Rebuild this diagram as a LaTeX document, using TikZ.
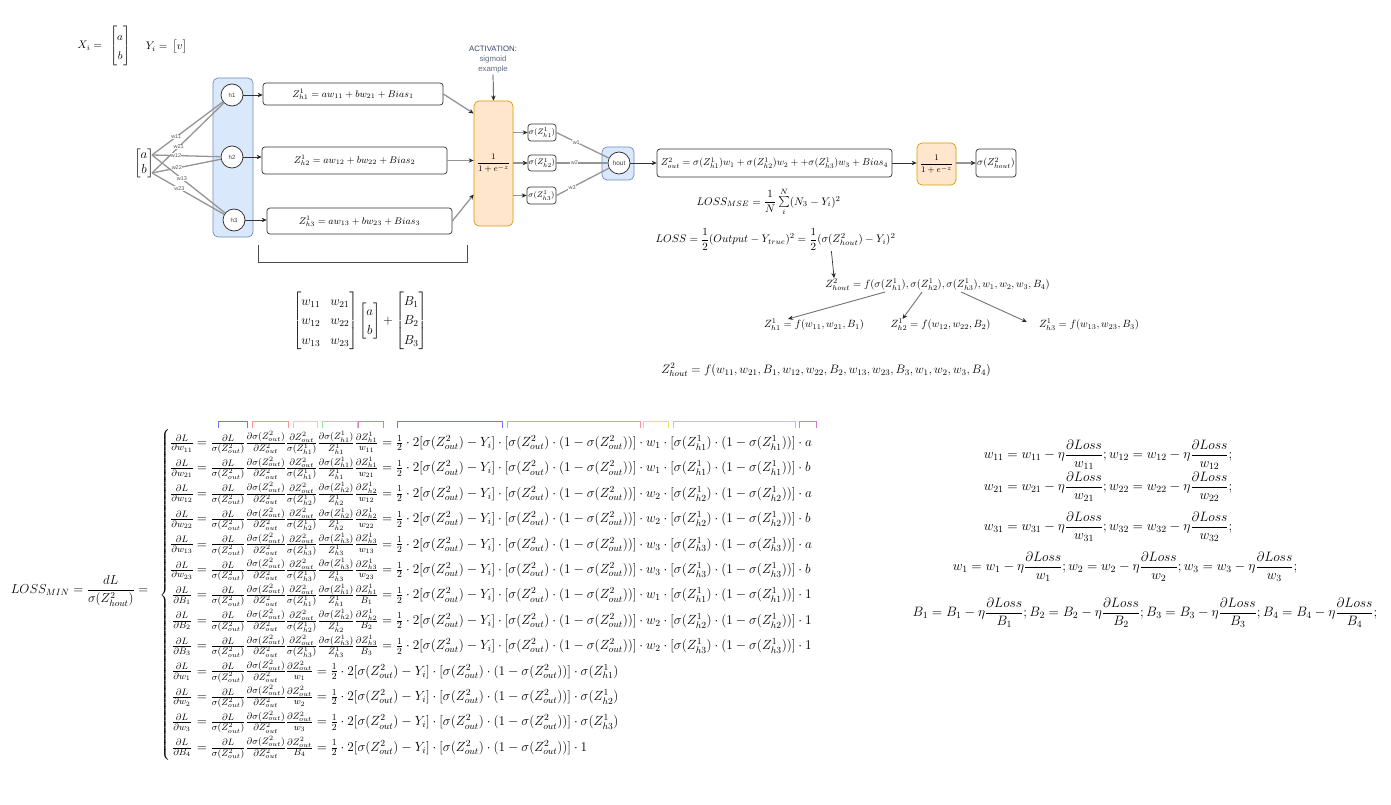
\RequirePackage{fix-cm}
\documentclass[tikz,border=0pt]{standalone}
\usepackage{amsmath}
\usepackage{fontspec}
\newfontfamily\lab{Liberation Sans}
\usetikzlibrary{arrows.meta,calc}

\definecolor{grpf}{HTML}{DAE8FC}
\definecolor{grpd}{HTML}{6C8EBF}
\definecolor{actf}{HTML}{FFE6CC}
\definecolor{actd}{HTML}{D79B00}
\definecolor{gline}{HTML}{959595}
\definecolor{labnavy}{HTML}{3A4566}
\definecolor{labgrey}{HTML}{5F6B80}
\definecolor{bkb}{HTML}{7373FF}
\definecolor{bkr}{HTML}{FF9494}
\definecolor{bky}{HTML}{E6DD6E}
\definecolor{bkg}{HTML}{8EEB8E}
\definecolor{bkm}{HTML}{CC7ACC}

% shorthand for the recurring activations
\newcommand{\sZo}{\sigma(Z^2_{out})}
\newcommand{\sZh}[1]{\sigma(Z^1_{h#1})}

% right-hand side of a hidden-layer gradient
\newcommand{\hidrest}[4]{{}= \frac{\partial L}{\sZo}\frac{\partial\sZo}{\partial Z^2_{out}}\frac{\partial Z^2_{out}}{\sZh{#2}}\frac{\partial\sZh{#2}}{Z^1_{h#2}}\frac{\partial Z^1_{h#2}}{#1} = \frac12\cdot 2[\sZo - Y_i]\cdot[\sZo\cdot(1-\sZo)]\cdot #3\cdot[\sZh{#2}\cdot(1-\sZh{#2})]\cdot #4}
% right-hand side of an output-layer gradient
\newcommand{\outrest}[2]{{}= \frac{\partial L}{\sZo}\frac{\partial\sZo}{\partial Z^2_{out}}\frac{\partial Z^2_{out}}{#1} = \frac12\cdot 2[\sZo - Y_i]\cdot[\sZo\cdot(1-\sZo)]\cdot #2}

\begin{document}
\begin{tikzpicture}[x=1pt,y=-1pt,
  zb/.style={draw=black!80, fill=white, rounded corners=3pt, line width=0.7pt, inner sep=0pt},
  neu/.style={circle, draw=black!85, fill=white, line width=0.7pt, minimum size=22pt, inner sep=0pt, text=black!75, font=\lab\fontsize{6}{7}\selectfont},
  grp/.style={draw=grpd, fill=grpf, rounded corners=5pt, line width=0.7pt, inner sep=0pt},
  actbox/.style={draw=actd, fill=actf, rounded corners=5pt, line width=0.7pt, inner sep=0pt},
  gl/.style={draw=gline, line width=1.3pt},
  arrowtip/.style={-{Stealth[length=5pt,width=4.4pt,color=black!85]}},
  darr/.style={draw=black!80, line width=0.7pt, arrowtip},
  garr/.style={gl, arrowtip},
  tarr/.style={draw=black!55, line width=0.9pt, arrowtip},
  wl/.style={font=\lab\fontsize{5.5}{6}\selectfont, text=black!65, fill=white, inner sep=0.4pt},
  fa/.style={inner sep=0pt, font=\fontsize{9.7}{11.6}\selectfont},
  fb/.style={inner sep=0pt, font=\fontsize{10.5}{12.6}\selectfont},
  fc/.style={inner sep=0pt, font=\fontsize{11}{13.2}\selectfont},
  fd/.style={inner sep=0pt, font=\fontsize{13}{15.6}\selectfont},
  fe/.style={inner sep=0pt, font=\fontsize{13.3}{16}\selectfont},
  fu/.style={inner sep=0pt, font=\fontsize{13.6}{16.3}\selectfont},
  bk/.style={line width=0.8pt}
]
\fill[white] (0,0) rectangle (1391,805);
\useasboundingbox (0,0) rectangle (1391,805);

% ---------- inputs ----------
\node[inner sep=0pt, font=\fontsize{11}{13.2}\selectfont] (xi) at (104,46) {\renewcommand{\arraystretch}{1.45}$X_i = \;\,\begin{bmatrix} a\\ b\end{bmatrix}$};
\node[inner sep=0pt, font=\fontsize{11}{13.2}\selectfont] (yi) at (166.5,47) {$Y_i = \,\begin{bmatrix} v\end{bmatrix}$};
\node[fd] (inp) at (144,163) {$\begin{bmatrix} a\\ b\end{bmatrix}$};
\coordinate (ina) at (152,155);
\coordinate (inb) at (152,173);

% ---------- hidden layer ----------
\node[grp, minimum width=40pt, minimum height=159pt] (hgrp) at (233,157.5) {};
\node[neu] (h1) at (232,95) {h1};
\node[neu] (h2) at (232,157) {h2};
\node[neu] (h3) at (234,220) {h3};

\draw[gl] (ina) -- node[wl,pos=.34]{w11} (h1);
\draw[gl] (inb) -- node[wl,pos=.37]{w21} (h1);
\draw[gl] (ina) -- node[wl,pos=.35]{w12} (h2);
\draw[gl] (inb) -- node[wl,pos=.36]{w22} (h2);
\draw[gl] (ina) -- node[wl,pos=.41]{w13} (h3);
\draw[gl] (inb) -- node[wl,pos=.38]{w23} (h3);

\node[zb, fa, minimum width=180pt, minimum height=22pt] (z1) at (353,94) {$Z^1_{h1} = aw_{11} + bw_{21} + Bias_1$};
\node[zb, fa, minimum width=185pt, minimum height=27pt] (z2) at (354.5,160.5) {$Z^1_{h2} = aw_{12} + bw_{22} + Bias_2$};
\node[zb, fa, minimum width=185pt, minimum height=26pt] (z3) at (359.5,221) {$Z^1_{h3} = aw_{13} + bw_{23} + Bias_3$};

\draw[darr] (h1) -- (z1.west |- h1);
\draw[darr] (h2) -- (z2.west |- h2);
\draw[darr] (h3) -- (z3.west |- h3);

% bracket under the weighted sums
\draw[black!70, line width=0.7pt] (258,245) -- (258,262) -- (467,262) -- (467,245);

% ---------- activation ----------
\node[actbox, minimum width=39pt, minimum height=125pt, font=\fontsize{8.5}{10}\selectfont] (a1) at (493.5,163.5) {$\dfrac{1}{1+e^{-z}}$};
\node[inner sep=1pt, align=center, font=\lab\fontsize{7.8}{10}\selectfont] (actlab) at (493,60) {\textcolor{labnavy}{ACTIVATION:}\\\textcolor{labgrey}{sigmoid}\\\textcolor{labgrey}{example}};
\draw[darr] (actlab.south) -- (a1.north);

\draw[garr] (z1.east) -- ($(a1.west)+(0,-50)$);
\draw[garr] (z2.east) -- (a1.west |- z2.east);
\draw[garr] (z3.east) -- ($(a1.west)+(0,31)$);

\node[zb, minimum width=28pt, minimum height=17pt, font=\fontsize{8}{9}\selectfont] (s1) at (542,132.5) {$\sZh{1}$};
\node[zb, minimum width=28pt, minimum height=16pt, font=\fontsize{8}{9}\selectfont] (s2) at (542,163) {$\sZh{2}$};
\node[zb, minimum width=29pt, minimum height=17pt, font=\fontsize{8}{9}\selectfont] (s3) at (541.5,195.5) {$\sZh{3}$};

\draw[garr] (a1.east |- s1) -- (s1.west);
\draw[garr] (a1.east |- s2) -- (s2.west);
\draw[garr] (a1.east |- s3) -- (s3.west);

% ---------- output neuron ----------
\node[grp, minimum width=32pt, minimum height=33pt] (ogrp) at (618,163.5) {};
\node[neu, font=\lab\fontsize{6.5}{7}\selectfont] (hout) at (619,163) {hout};

\draw[gl] (s1.east) -- node[wl,pos=.38]{w1} (hout);
\draw[gl] (s2.east) -- node[wl,pos=.35]{w2} (hout);
\draw[gl] (s3.east) -- node[wl,pos=.30]{w3} (hout);

\node[zb, minimum width=235pt, minimum height=28pt, font=\fontsize{10}{12}\selectfont] (zo) at (774.5,163) {$Z^2_{out} = \sZh{1}w_1 + \sZh{2}w_2 + +\sZh{3}w_3 + Bias_4$};
\draw[darr] (hout) -- (zo.west);

\node[actbox, minimum width=39pt, minimum height=42pt, font=\fontsize{8.5}{10}\selectfont] (a2) at (936.5,164) {$\dfrac{1}{1+e^{-z}}$};
\node[zb, minimum width=40pt, minimum height=28pt, font=\fontsize{10}{12}\selectfont] (fin) at (996,163) {$\sigma(Z^2_{hout})$};
\draw[darr] (zo.east) -- (a2.west |- zo.east);
\draw[garr] (a2.east |- fin) -- (fin.west);

% ---------- loss and dependencies ----------
\node[fc] (mse) at (768.5,202) {$LOSS_{MSE} = \dfrac{1}{N}\sum\limits_i^N (N_3 - Y_i)^2$};
\node[fc] (loss) at (775.5,239) {$LOSS = \dfrac12(Output - Y_{true})^2 = \dfrac12(\sigma(Z^2_{hout}) - Y_i)^2$};

\node[fb] (fz) at (937.5,285) {$Z^2_{hout} = f(\sZh{1}, \sZh{2}, \sZh{3}, w_1, w_2, w_3, B_4)$};
\draw[darr] ($(loss.south west)+(176,1)$) -- ($(fz.north west)+(9,-1)$);

\node[fb] (t1) at (814,325) {$Z^1_{h1} = f(w_{11}, w_{21}, B_1)$};
\node[fb] (t2) at (940.5,325) {$Z^1_{h2} = f(w_{12}, w_{22}, B_2)$};
\node[fb] (t3) at (1089,325) {$Z^1_{h3} = f(w_{13}, w_{23}, B_3)$};
\draw[tarr] ($(fz.south west)+(60,1)$) -- ($(t1.north)+(-26,0)$);
\draw[tarr] ($(fz.south west)+(97,1)$) -- ($(t2.north)+(-38,0)$);
\draw[tarr] ($(fz.south west)+(136,1)$) -- ($(t3.west)+(-12,-3)$);

\node[inner sep=0pt, font=\fontsize{12.2}{14.6}\selectfont] (fz2) at (826,370) {$Z^2_{hout} = f(w_{11}, w_{21}, B_1, w_{12}, w_{22}, B_2, w_{13}, w_{23}, B_3, w_1, w_2, w_3, B_4)$};

% ---------- matrix form ----------
\node[fd] (mat) at (360,321) {\renewcommand{\arraystretch}{1.25}$\begin{bmatrix} w_{11} & w_{21}\\ w_{12} & w_{22}\\ w_{13} & w_{23}\end{bmatrix}\begin{bmatrix} a\\ b\end{bmatrix} + \begin{bmatrix} B_1\\ B_2\\ B_3\end{bmatrix}$};

% ---------- gradients ----------
\node[fd] (lmin) at (79.5,591) {$LOSS_{MIN} = \dfrac{dL}{\sigma(Z^2_{hout})} =$};
\node[fd] (brace) at (165,595) {\nulldelimiterspace=0pt$\left\{\vcenter{\hbox{\rule{0pt}{336pt}}}\right.$};

\foreach \a/\b/\c in {218/247/bkb, 252/288/bkr, 293/317/bky, 322/357/bkg, 358/383/bkm,
                      397/502/bkb, 507/640/bkr, 643/668/bky, 673/795/bkg, 799/816/bkm}
  \draw[bk, \c] (\a,428) -- (\a,421) -- (\b,421) -- (\b,428);

\foreach \k/\v/\h/\w/\f in {0/w_{11}/1/w_1/a, 1/w_{21}/1/w_1/b, 2/w_{12}/2/w_2/a,
                            3/w_{22}/2/w_2/b, 4/w_{13}/3/w_3/a, 5/w_{23}/3/w_3/b,
                            6/B_1/1/w_1/1, 7/B_2/2/w_2/1, 8/B_3/3/w_2/1} {
  \node[fe, anchor=base] (l\k) at (182, {446.4+25.4*\k}) {$\frac{\partial L}{\partial \v}$};
  \node[fe, anchor=base west] (r\k) at (193, {446.4+25.4*\k}) {$\hidrest{\v}{\h}{\w}{\f}$};
}
\foreach \k/\v/\f in {9/w_1/\sZh{1}, 10/w_2/\sZh{2}, 11/w_3/\sZh{3}, 12/B_4/1} {
  \node[fe, anchor=base] (l\k) at (182, {446.4+25.4*\k}) {$\frac{\partial L}{\partial \v}$};
  \node[fe, anchor=base west] (r\k) at (193, {446.4+25.4*\k}) {$\outrest{\v}{\f}$};
}

% ---------- update rules ----------
\node[fu, anchor=base] (u1) at (1108,458.3) {$w_{11} = w_{11} - \eta\dfrac{\partial Loss}{w_{11}}; w_{12} = w_{12} - \eta\dfrac{\partial Loss}{w_{12}};$};
\node[fu, anchor=base] (u2) at (1108,490.3) {$w_{21} = w_{21} - \eta\dfrac{\partial Loss}{w_{21}}; w_{22} = w_{22} - \eta\dfrac{\partial Loss}{w_{22}};$};
\node[fu, anchor=base] (u3) at (1108,530.3) {$w_{31} = w_{31} - \eta\dfrac{\partial Loss}{w_{31}}; w_{32} = w_{32} - \eta\dfrac{\partial Loss}{w_{32}};$};
\node[fu, anchor=base] (u4) at (1125,570.3) {$w_1 = w_1 - \eta\dfrac{\partial Loss}{w_1}; w_2 = w_2 - \eta\dfrac{\partial Loss}{w_2}; w_3 = w_3 - \eta\dfrac{\partial Loss}{w_3};$};
\node[fu, anchor=base] (u5) at (1145,616.3) {$B_1 = B_1 - \eta\dfrac{\partial Loss}{B_1}; B_2 = B_2 - \eta\dfrac{\partial Loss}{B_2}; B_3 = B_3 - \eta\dfrac{\partial Loss}{B_3}; B_4 = B_4 - \eta\dfrac{\partial Loss}{B_4};$};
\end{tikzpicture}
\end{document}
